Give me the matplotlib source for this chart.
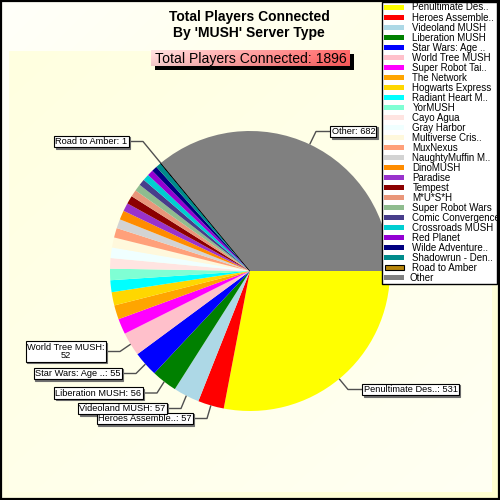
import numpy as np
import matplotlib
matplotlib.use('Agg')
import matplotlib.pyplot as plt
from matplotlib.patches import Rectangle
import matplotlib.colors as mcolors

plt.rcParams['font.family'] = ['Liberation Sans', 'DejaVu Sans']

# ---------------- data ----------------
labels = ['Penultimate Des..', 'Heroes Assemble..', 'Videoland MUSH', 'Liberation MUSH',
          'Star Wars: Age ..', 'World Tree MUSH', 'Super Robot Tai..', 'The Network',
          'Hogwarts Express', 'Radiant Heart M..', 'YorMUSH', 'Cayo Agua', 'Gray Harbor',
          'Multiverse Cris..', 'MuxNexus', 'NaughtyMuffin M..', 'DinoMUSH', 'Paradise',
          'Tempest', 'M*U*S*H', 'Super Robot Wars', 'Comic Convergence', 'Crossroads MUSH',
          'Red Planet', 'Wilde Adventure..', 'Shadowrun - Den..', 'Road to Amber', 'Other']
values = [531, 57, 57, 56, 55, 52, 34, 31, 29, 26, 25, 23, 23, 22, 21, 20, 20, 18,
          18, 15, 15, 14, 14, 13, 12, 12, 1, 682]
colors = ['#FFFF00', '#FF0000', '#ADD8E6', '#008000', '#0000FF', '#FFC0CB', '#FF00FF',
          '#FFA500', '#FFD700', '#00FFFF', '#7FFFD4', '#FFE4E1', '#F0FFFF', '#FFF8DC',
          '#FFA07A', '#D3D3D3', '#FF8C00', '#9932CC', '#8B0000', '#E9967A', '#8FBC8F',
          '#483D8B', '#00CED1', '#9400D3', '#000080', '#008B8B', '#B8860B', '#808080']
title_lines = ["Total Players Connected", "By 'MUSH' Server Type"]
subtitle = "Total Players Connected: %d" % sum(values)
labeled = [0, 1, 2, 3, 4, 5, 26, 27]

# ---------------- figure ----------------
fig = plt.figure(figsize=(5, 5), dpi=100)
ax = fig.add_axes([0, 0, 1, 1])


def Y(y):
    return 500 - y


def gradient(c0, c1, n=200, mode='diag'):
    a = np.array(mcolors.to_rgb(c0))
    b = np.array(mcolors.to_rgb(c1))
    xx, yy = np.meshgrid(np.linspace(0, 1, n), np.linspace(0, 1, n))
    if mode == 'diag':
        t = (xx + yy) / 2
    else:
        t = xx
    return a * (1 - t[..., None]) + b * t[..., None]


ax.imshow(gradient('#FFFFFA', '#FFFFD0'), extent=(0, 500, 0, 500), origin='upper',
          zorder=0, interpolation='bilinear')
ax.imshow(gradient('#FFFFE0', '#FFFFF3'), extent=(9, 492, Y(492), Y(51)), origin='upper',
          zorder=0.2, interpolation='bilinear')
ax.add_patch(Rectangle((0.7, 0.7), 498, 498.6, fill=False, ec='black', lw=1.6, zorder=10))

# pie
cx, cy, R = 250, Y(271), 140
wedges, _ = ax.pie(values, colors=colors, startangle=0, counterclock=False,
                   center=(cx, cy), radius=R, wedgeprops=dict(linewidth=0))
for w in wedges:
    w.set_zorder(2)
wedges[26].set_edgecolor('black')
wedges[26].set_linewidth(0.6)

# labels with leader lines: (side, box edge x, box centre y)
layout = {
    0: ('R', 362, 389.5),
    1: ('L', 193, 418.5),
    2: ('L', 167, 408.5),
    3: ('L', 143, 393),
    4: ('L', 122, 373.5),
    5: ('L', 106, 351.5),
    26: ('L', 129, 141.5),
    27: ('R', 330, 131.5),
}
fs_lab = 6.7
for i in labeled:
    side, bx, by = layout[i]
    w = wedges[i]
    th = np.deg2rad((w.theta1 + w.theta2) / 2)
    ex, ey = cx + R * np.cos(th), cy + R * np.sin(th)
    elx = bx - 14 if side == 'R' else bx + 14
    ax.plot([ex, elx, bx], [ey, Y(by), Y(by)], color='#505050', lw=1.0, zorder=4,
            solid_capstyle='butt')
    if i == 5:
        txt = labels[i] + ":\n" + str(values[i])
    else:
        txt = labels[i] + ": " + str(values[i])
    pad_px = 1.6
    if side == 'R':
        tx, ha = bx + pad_px, 'left'
    else:
        tx, ha = bx - pad_px, 'right'
    ma = 'center' if i == 5 else 'left'
    ax.text(tx + 1.5, Y(by) - 1.5, txt, ha=ha, va='center', fontsize=fs_lab,
            color='#707070', multialignment=ma, linespacing=1.0, zorder=5,
            bbox=dict(boxstyle='square,pad=0.12', fc='#707070', ec='#707070', lw=0.8))
    ax.text(tx, Y(by), txt, ha=ha, va='center', fontsize=fs_lab, color='black',
            multialignment=ma, linespacing=1.0, zorder=6,
            bbox=dict(boxstyle='square,pad=0.12', fc='white', ec='black', lw=0.8))

# title
ax.text(249, Y(17.5), title_lines[0], ha='center', va='center', fontsize=10,
        fontweight='bold', zorder=8)
ax.text(249, Y(33.5), title_lines[1], ha='center', va='center', fontsize=10,
        fontweight='bold', zorder=8)

# subtitle box with gradient and shadow
ax.add_patch(Rectangle((154.5, Y(69.5)), 199, 16, fc='black', ec='none', zorder=7))
sg = gradient('#FFD4D4', '#FF5C5C', mode='h')
vt = np.linspace(0, 1, sg.shape[0])[:, None, None]
sg = np.clip(sg * (1 - 0.06 * vt) + 0.06 * (1 - vt), 0, 1)
ax.imshow(sg, extent=(151, 350, Y(66), Y(50)), origin='upper', zorder=7.5,
          interpolation='bilinear')
ax.text(250.5, Y(58.5), subtitle, ha='center', va='center', fontsize=10.1, zorder=8)

# legend
ax.add_patch(Rectangle((381.5, Y(283.5)), 115.5, 281.5, fc='white', ec='black', lw=1.0,
                       zorder=8))
for i, (lab, col) in enumerate(zip(labels, colors)):
    yc = 7.2 + 10.01 * i
    if i == 26:
        ax.add_patch(Rectangle((384.5, Y(yc + 2.6)), 19.5, 5.2, fc=col, ec='black',
                               lw=0.8, zorder=9))
    else:
        ax.add_patch(Rectangle((384, Y(yc + 2.4)), 20, 4.8, fc=col, ec='none', zorder=9))
    tx = 410 if i == 27 else 412.5
    ax.text(tx, Y(yc + 3.3), lab, ha='left', va='baseline', fontsize=7, zorder=9)

ax.set_xlim(0, 500)
ax.set_ylim(0, 500)
ax.set_axis_off()

fig.savefig('out.png', dpi=100)
